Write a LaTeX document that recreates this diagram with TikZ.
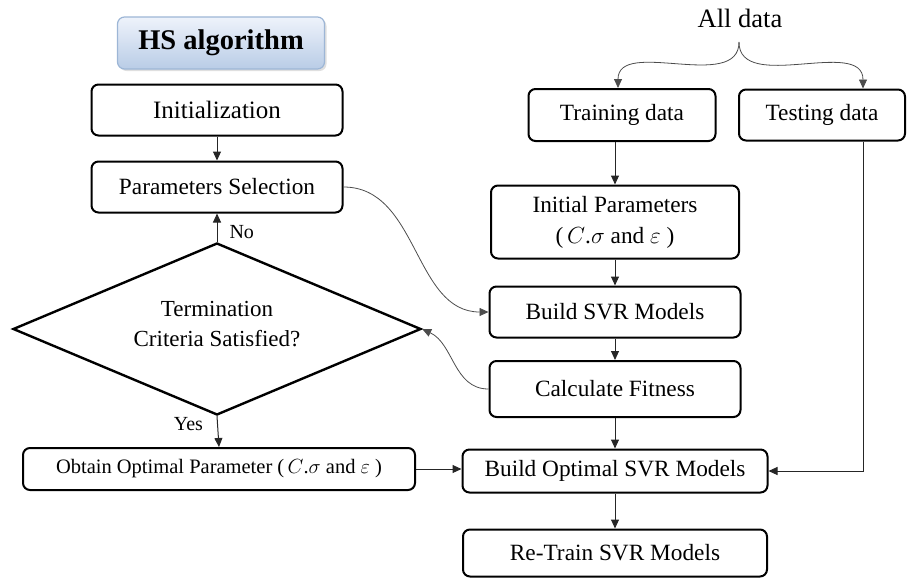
\RequirePackage{fix-cm}
\documentclass[tikz,border=0pt]{standalone}
\usepackage{amsmath}
\usepackage{fontspec}
\setmainfont{Liberation Serif}
\usepackage{xcolor}
\usepackage{tikz}
\usetikzlibrary{arrows.meta,shapes.geometric,shadows}

\definecolor{hstop}{HTML}{EEF3FB}
\definecolor{hsbot}{HTML}{B9CCE6}
\definecolor{hsedge}{HTML}{9DB6D6}

\begin{document}
\begin{tikzpicture}[
  x=1pt, y=-1pt,
  stepbox/.style={draw, line width=2pt, rounded corners=7pt, align=center,
    inner sep=2pt, font=\fontsize{23.3}{31}\selectfont},
  decision/.style={draw, line width=2.4pt, diamond, aspect=2.37,
    minimum width=408pt, minimum height=172pt, inner sep=0pt, align=center,
    text depth=11pt, font=\fontsize{23}{30}\selectfont},
  hsbox/.style={draw=hsedge, line width=1.2pt, rounded corners=7pt,
    top color=hstop, bottom color=hsbot,
    drop shadow={shadow xshift=2pt, shadow yshift=-2pt, opacity=0.25},
    font=\fontsize{28.5}{30}\selectfont\bfseries},
  lbl/.style={font=\fontsize{20}{22}\selectfont, inner sep=2pt},
  arr/.style={-{Triangle[length=9pt,width=8pt]}, line width=1pt, draw=black!85},
  backarr/.style={-{Triangle[length=9pt,width=8pt]}, line width=0.8pt, draw=black!70},
]
\useasboundingbox (0,0) rectangle (912,579);

% left column: HS loop
\node[hsbox, minimum width=207pt, minimum height=52pt] (hs) at (221,43) {HS algorithm};
\node[stepbox, minimum width=251pt, minimum height=51pt,
  font=\fontsize{25}{30}\selectfont] (init) at (217,110) {Initialization};
\node[stepbox, minimum width=251pt, minimum height=51pt] (psel) at (217,187) {Parameters Selection};
\node[decision] (term) at (217,329) {Termination\\Criteria Satisfied?};
\node[stepbox, minimum width=392pt, minimum height=42pt,
  font=\fontsize{20.5}{24}\selectfont] (optp) at (219,469)
  {Obtain Optimal Parameter (\,$C$.$\sigma$ and $\varepsilon$\ )};

% right column: SVR
\node[font=\fontsize{26.5}{30}\selectfont, inner sep=0pt] (all) at (740,18) {All data};
\coordinate (brc) at (739,42);
\node[stepbox, minimum width=187pt, minimum height=52pt] (train) at (622,115) {Training data};
\node[stepbox, minimum width=166pt, minimum height=51pt] (test) at (822,115) {Testing data};
\node[stepbox, minimum width=248pt, minimum height=73pt] (ipar) at (615,222)
  {Initial Parameters\\(\,$C$.$\sigma$ and $\varepsilon$\ )};
\node[stepbox, minimum width=251pt, minimum height=51pt] (bsvr) at (615,312) {Build SVR Models};
\node[stepbox, minimum width=251pt, minimum height=56pt] (fit) at (615,389) {Calculate Fitness};
\node[stepbox, minimum width=305pt, minimum height=43pt] (bopt) at (615,471) {Build Optimal SVR Models};
\node[stepbox, minimum width=304pt, minimum height=47pt] (retr) at (615,553) {Re-Train SVR Models};

\draw[arr] (init) -- (psel);
\draw[arr] (term.north) -- node[lbl, right, xshift=10pt, pos=0.35]{No} (psel.south);
\draw[arr] (term.south) -- node[lbl, left, xshift=-12pt, pos=0.25]{Yes} (optp.north);
\draw[arr] (optp.east) -- (optp.east -| bopt.west);

\draw[arr] (train.south -| ipar.north) -- (ipar.north);
\draw[arr] (ipar) -- (bsvr);
\draw[arr] (bsvr) -- (fit);
\draw[arr] (fit) -- (bopt);
\draw[arr] (bopt) -- (retr);
\draw[arr] ([xshift=41pt]test.south) |- (bopt.east);

\draw[backarr] (psel.east) to[out=0, in=180] (bsvr.west);
\draw[backarr] (fit.west) to[out=180, in=-25] (term.east);
\draw[backarr] (brc) to[out=-90, in=90] ([xshift=-4pt]train.north);
\draw[backarr] (brc) to[out=-90, in=90] ([xshift=41pt]test.north);
\end{tikzpicture}
\end{document}
